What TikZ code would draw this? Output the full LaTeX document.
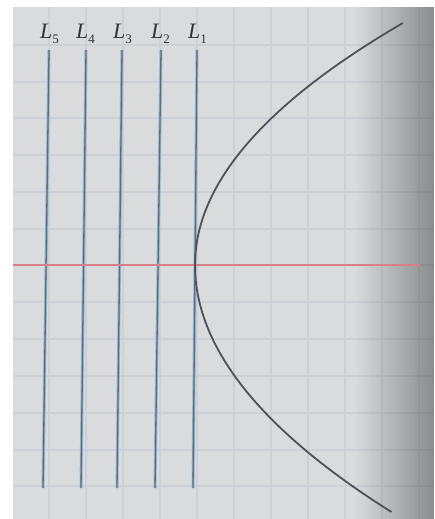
\documentclass[tikz,border=0pt]{standalone}
\usepackage{fontspec}
\newfontfamily\labfont{Liberation Serif}
\usetikzlibrary{fadings}
\definecolor{paper}{HTML}{D9DBDC}
\definecolor{gridc}{HTML}{CBD1D6}
\definecolor{lblue}{HTML}{8FB9DC}
\definecolor{lgray}{HTML}{666B70}
\definecolor{redline}{HTML}{D7808A}
\definecolor{curvec}{HTML}{4E5257}
\tikzfading[name=shadefade, left color=transparent!100, right color=transparent!0]
\newcommand{\levlab}[1]{{\labfont\fontsize{22}{24}\selectfont\itshape L}\raisebox{-5pt}{\labfont\fontsize{13}{13}\selectfont #1}}
\begin{document}
\begin{tikzpicture}[x=1pt,y=-1pt,
  gridline/.style={draw=gridc, line width=1.1pt},
  levelhalo/.style={draw=lblue, line width=3pt},
  levelcore/.style={draw=lgray, line width=1.3pt},
  axisline/.style={draw=redline, line width=2pt},
  curveline/.style={draw=curvec, line width=1.8pt},
  lab/.style={inner sep=0pt, anchor=base west, text=black!80}]
\useasboundingbox (0,0) rectangle (434,519);
\fill[white] (0,0) rectangle (434,519);
\fill[paper] (13,7) rectangle (434,519);
% grid
\foreach \gx in {49,86,123,160,197,234,271,308,345,382,419}
  \draw[gridline] (\gx,7) -- (\gx,519);
\foreach \gy in {45,82,118,155,192,229,265,302,339,376,413,450,486}
  \draw[gridline] (13,\gy) -- (434,\gy);
% shadow at the right edge
\fill[black, path fading=shadefade, opacity=0.36] (355,7) rectangle (434,519);
% level lines
\foreach \nm/\xt/\xb in {5/49/43, 4/86/81, 3/122/117, 2/161/155, 1/197/193} {
  \coordinate (t\nm) at (\xt,50);
  \coordinate (b\nm) at (\xb,488);
  \draw[levelhalo] (t\nm) -- (b\nm);
  \draw[levelcore] (t\nm) -- (b\nm);
}
% horizontal axis
\coordinate (al) at (13,265);
\coordinate (ar) at (420,265);
\draw[axisline] (al) -- (ar);
% curve
\draw[curveline] plot[domain=-242:0, samples=80] ({195+0.355*(\x/10)*(\x/10)}, {\x+265});
\draw[curveline] plot[domain=0:247, samples=80] ({195+0.322*(\x/10)*(\x/10)}, {\x+265});
% labels
\node[lab] (l5) at (40,39) {\levlab{5}};
\node[lab] (l4) at (76,39) {\levlab{4}};
\node[lab] (l3) at (113,39) {\levlab{3}};
\node[lab] (l2) at (151,39) {\levlab{2}};
\node[lab] (l1) at (188,39) {\levlab{1}};
\end{tikzpicture}
\end{document}
